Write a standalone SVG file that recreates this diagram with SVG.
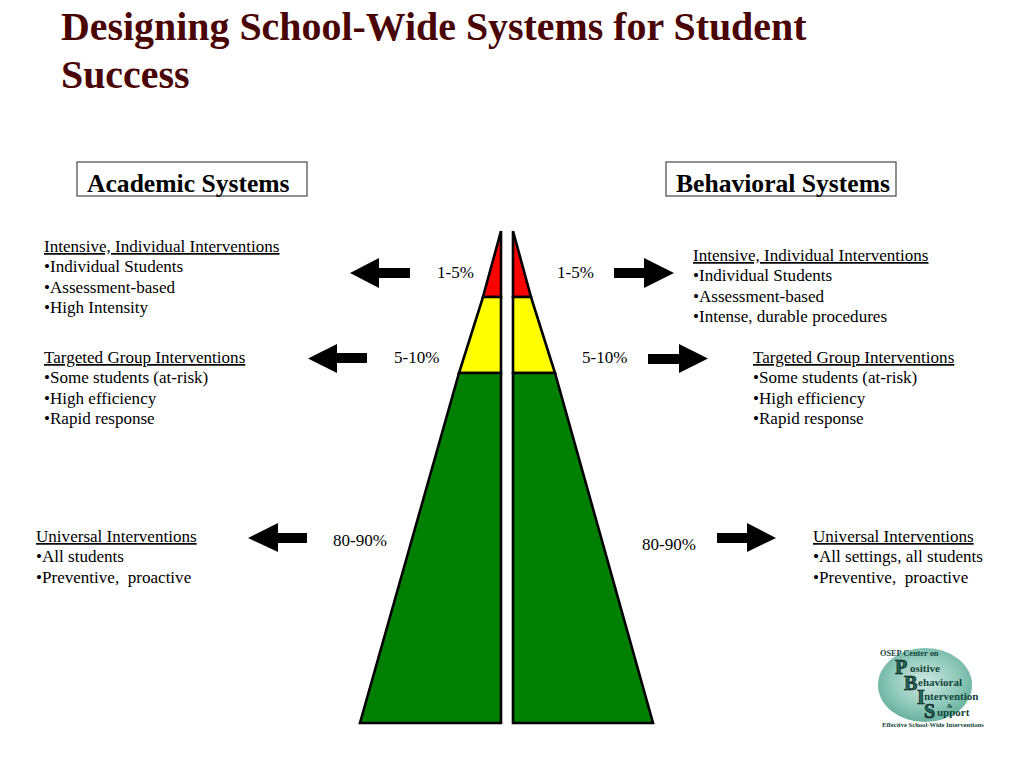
<svg xmlns="http://www.w3.org/2000/svg" width="1024" height="768" viewBox="0 0 1024 768">
<defs>
<radialGradient id="lg" cx="0.5" cy="0.45" r="0.65"><stop offset="0" stop-color="#cfe8e0"/><stop offset="0.55" stop-color="#8fc9b9"/><stop offset="1" stop-color="#55a593"/></radialGradient>
</defs>
<style>
text{font-family:"Liberation Serif","Times New Roman",serif;fill:#000}
.t{font-size:17.07px}
.u{text-decoration:underline}
.h{font-size:25.6px;font-weight:bold}
.title{font-size:39.9px;font-weight:bold;fill:#4a0404}
.box{fill:#fff;stroke:#555;stroke-width:1.3}
.p{stroke:#000;stroke-width:2.6;stroke-linejoin:miter}
.lg{font-weight:bold;fill:#12443a;font-size:11px}
.L{font-weight:bold;fill:#1f6a5a;stroke:#000;stroke-width:.6;font-size:20px}
</style>
<rect width="1024" height="768" fill="#fff"/>
<g id="title"><text class="title" x="61" y="40">Designing School-Wide Systems for Student</text><text class="title" x="61" y="88">Success</text></g>
<g id="academic-header"><rect class="box" x="77" y="162" width="230" height="34"/><text class="h" x="87" y="192">Academic Systems</text></g>
<g id="behavioral-header"><rect class="box" x="666" y="162" width="230" height="34"/><text class="h" x="676" y="192">Behavioral Systems</text></g>
<g id="pyramid-left">
<polygon class="p" points="501,231 501,297 483,297" fill="#f00"/>
<polygon class="p" points="483,297 501,297 501,373 459,373" fill="#ff0"/>
<polygon class="p" points="459,373 501,373 501,723 360,723" fill="#008000"/>
</g>
<g id="pyramid-right">
<polygon class="p" points="513,231 513,297 531,297" fill="#f00"/>
<polygon class="p" points="513,297 531,297 555,373 513,373" fill="#ff0"/>
<polygon class="p" points="513,373 555,373 653,723 513,723" fill="#008000"/>
</g>
<g id="connectors">
<polygon points="410,268 379,268 379,258 350,273 379,288 379,278 410,278"/>
<polygon points="367,353 337,353 337,344 308,358.500 337,373 337,363 367,363"/>
<polygon points="307,533 278,533 278,523 248,538 278,552 278,543 307,543"/>
<polygon points="614,268 644,268 644,258 674,273 644,288 644,278 614,278"/>
<polygon points="648,354 679,354 679,344 708,358.500 679,373 679,364 648,364"/>
<polygon points="717,533 747,533 747,523 776,538 747,552 747,543 717,543"/>
</g>
<g id="pct-labels">
<text class="t" x="437" y="278">1-5%</text><text class="t" x="557" y="278">1-5%</text>
<text class="t" x="394" y="363">5-10%</text><text class="t" x="582" y="363">5-10%</text>
<text class="t" x="333" y="546">80-90%</text><text class="t" x="642" y="550">80-90%</text>
</g>
<g id="left-intensive"><text class="t u" x="44" y="252">Intensive, Individual Interventions</text><text class="t" x="44" y="272">•Individual Students</text><text class="t" x="44" y="293">•Assessment-based</text><text class="t" x="44" y="313">•High Intensity</text></g>
<g id="left-targeted"><text class="t u" x="44" y="363">Targeted Group Interventions</text><text class="t" x="44" y="383">•Some students (at-risk)</text><text class="t" x="44" y="404">•High efficiency</text><text class="t" x="44" y="424">•Rapid response</text></g>
<g id="left-universal"><text class="t u" x="36" y="542">Universal Interventions</text><text class="t" x="36" y="562">•All students</text><text class="t" x="36" y="583" xml:space="preserve">•Preventive,  proactive</text></g>
<g id="right-intensive"><text class="t u" x="693" y="261">Intensive, Individual Interventions</text><text class="t" x="693" y="281">•Individual Students</text><text class="t" x="693" y="302">•Assessment-based</text><text class="t" x="693" y="322">•Intense, durable procedures</text></g>
<g id="right-targeted"><text class="t u" x="753" y="363">Targeted Group Interventions</text><text class="t" x="753" y="383">•Some students (at-risk)</text><text class="t" x="753" y="404">•High efficiency</text><text class="t" x="753" y="424">•Rapid response</text></g>
<g id="right-universal"><text class="t u" x="813" y="542">Universal Interventions</text><text class="t" x="813" y="562">•All settings, all students</text><text class="t" x="813" y="583" xml:space="preserve">•Preventive,  proactive</text></g>
<g id="logo">
<ellipse cx="925" cy="685" rx="47" ry="37" fill="url(#lg)"/>
<text class="lg" x="880" y="656" style="font-size:8.300px">OSEP Center on</text>
<text class="L" x="895" y="674">P</text><text class="L" x="904" y="690">B</text><text class="L" x="917" y="704">I</text><text class="L" x="924" y="718">S</text>
<text class="lg" x="910" y="672">ositive</text>
<text class="lg" x="918" y="686">ehavioral</text>
<text class="lg" x="924" y="700">ntervention</text>
<text class="lg" x="947" y="708" style="font-size:7px">&amp;</text>
<text class="lg" x="937" y="716">upport</text>
<text class="lg" x="882" y="727" style="font-size:6.600px">Effective School-Wide Interventions</text>
</g>
</svg>
